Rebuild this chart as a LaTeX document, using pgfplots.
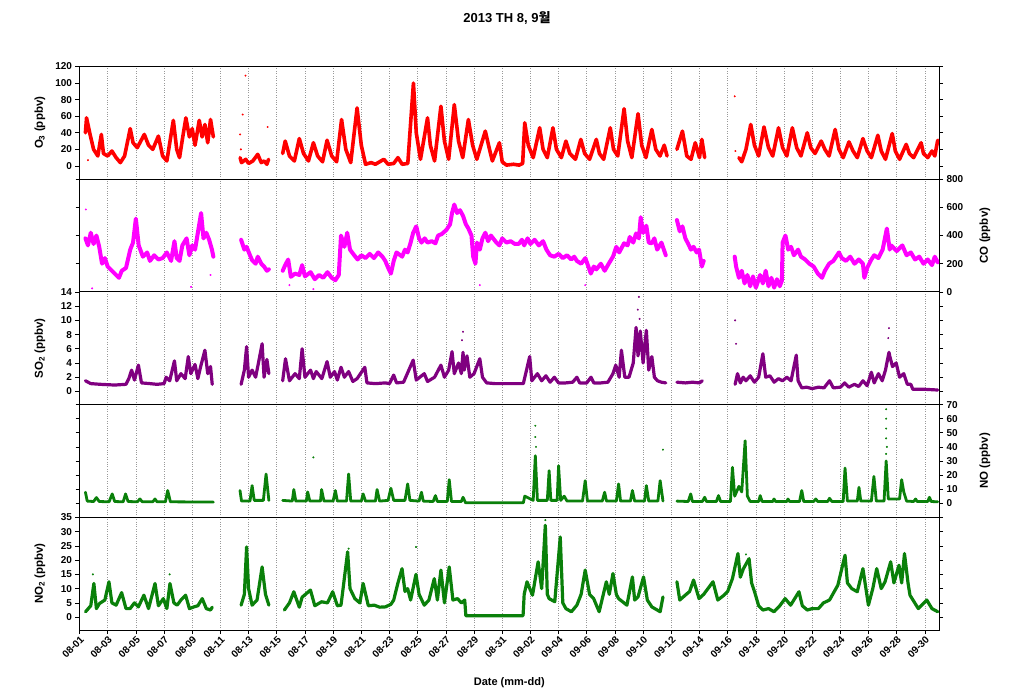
\documentclass[border=0pt]{standalone}
\usepackage{fontspec}
\setmainfont{Liberation Sans}
\newfontfamily\krfont{Noto Sans CJK KR}
\usepackage{pgfplots}
\usepackage{pgfplotstable}
\pgfplotsset{compat=1.18}

\definecolor{ozred}{RGB}{255,0,0}
\definecolor{comag}{RGB}{255,0,255}
\definecolor{sopur}{RGB}{128,0,128}
\definecolor{nogrn}{RGB}{10,128,10}

% O3 (ppbv), day since 08-01 00:00
\pgfplotstableread[row sep=\\]{d v\\
0.42 40\\ 0.5 58\\ 0.6 50\\ 0.75 38\\ 1.0 20\\ 1.3 12\\ 1.55 38\\ 1.7 15\\ 2.0 12\\ 2.3 18\\ 2.6 10\\ 2.9 4\\ 3.2 12\\ 3.6 45\\ 3.8 28\\ 4.1 22\\ 4.6 38\\ 4.9 25\\ 5.2 20\\ 5.6 36\\ 5.9 12\\ 6.2 6\\ 6.66 55\\ 6.9 20\\ 7.1 10\\ 7.3 32\\ 7.55 58\\ 7.8 35\\ 8.0 45\\ 8.2 25\\ 8.5 55\\ 8.7 35\\ 8.9 50\\ 9.1 28\\ 9.3 56\\ 9.5 35\\ 9.6 nan\\
11.4 10\\ 11.5 4\\ 11.8 8\\ 12.0 3\\ 12.3 6\\ 12.65 14\\ 12.9 4\\ 13.1 6\\ 13.3 2\\ 13.42 8\\ 13.5 nan\\
14.42 15\\ 14.6 30\\ 14.9 12\\ 15.25 6\\ 15.6 33\\ 15.9 15\\ 16.25 6\\ 16.6 28\\ 16.9 12\\ 17.25 5\\ 17.57 31\\ 17.9 12\\ 18.25 5\\ 18.6 56\\ 18.9 20\\ 19.25 4\\ 19.7 70\\ 20.0 25\\ 20.3 2\\ 20.7 4\\ 21.0 2\\ 21.6 8\\ 21.9 2\\ 22.3 3\\ 22.6 10\\ 22.9 2\\ 23.3 3\\ 23.7 100\\ 23.9 40\\ 24.2 8\\ 24.7 58\\ 24.9 25\\ 25.2 6\\ 25.65 72\\ 25.9 30\\ 26.2 8\\ 26.6 74\\ 26.9 30\\ 27.2 10\\ 27.6 56\\ 27.9 25\\ 28.2 8\\ 28.8 42\\ 29.1 20\\ 29.3 6\\ 29.8 28\\ 30.0 5\\ 30.3 1\\ 30.8 2\\ 31.2 1\\ 31.45 3\\
31.6 52\\ 31.85 25\\ 32.2 10\\ 32.66 46\\ 32.9 20\\ 33.2 10\\ 33.6 46\\ 33.85 20\\ 34.2 10\\ 34.52 30\\ 34.8 15\\ 35.2 8\\ 35.58 32\\ 35.85 15\\ 36.2 8\\ 36.68 32\\ 36.9 15\\ 37.2 8\\ 37.67 46\\ 37.9 20\\ 38.2 12\\ 38.65 69\\ 38.9 30\\ 39.2 10\\ 39.64 63\\ 39.9 25\\ 40.2 10\\ 40.62 44\\ 40.9 20\\ 41.2 12\\ 41.5 25\\ 41.7 12\\ 41.8 nan\\
42.4 20\\ 42.79 42\\ 43.1 12\\ 43.4 8\\ 43.7 28\\ 44.0 10\\ 44.17 32\\ 44.37 10\\ 44.5 nan\\
46.8 10\\ 47.0 5\\ 47.3 20\\ 47.64 50\\ 47.9 25\\ 48.2 12\\ 48.58 47\\ 48.9 22\\ 49.2 12\\ 49.61 46\\ 49.9 22\\ 50.2 12\\ 50.59 46\\ 50.9 22\\ 51.2 12\\ 51.65 40\\ 51.9 22\\ 52.2 15\\ 52.64 30\\ 52.9 20\\ 53.2 12\\ 53.63 44\\ 53.9 20\\ 54.2 10\\ 54.61 29\\ 54.9 18\\ 55.2 10\\ 55.6 33\\ 55.9 18\\ 56.2 10\\ 56.66 37\\ 56.9 18\\ 57.2 8\\ 57.68 39\\ 57.9 18\\ 58.2 8\\ 58.67 26\\ 58.9 15\\ 59.2 10\\ 59.73 28\\ 59.9 15\\ 60.2 10\\ 60.5 18\\ 60.7 12\\ 60.91 31\\
}\ozone
\pgfplotstableread[row sep=\\]{d v\\
0.6 7\\ 11.78 109\\ 11.58 62\\ 11.4 38\\ 11.45 20\\ 13.35 47\\ 46.5 84\\ 46.55 18\\
}\ozoneout

% CO (ppbv)
\pgfplotstableread[row sep=\\]{d v\\
0.42 380\\ 0.6 330\\ 0.8 420\\ 1.0 340\\ 1.2 400\\ 1.4 320\\ 1.6 200\\ 1.8 240\\ 2.0 180\\ 2.3 150\\ 2.6 120\\ 2.8 100\\ 3.0 150\\ 3.3 170\\ 3.6 300\\ 3.8 350\\ 4.0 520\\ 4.2 330\\ 4.5 250\\ 4.8 280\\ 5.0 220\\ 5.3 260\\ 5.6 230\\ 5.9 240\\ 6.2 280\\ 6.5 220\\ 6.74 360\\ 6.9 240\\ 7.1 220\\ 7.3 330\\ 7.6 380\\ 7.8 260\\ 8.0 330\\ 8.2 300\\ 8.4 420\\ 8.63 560\\ 8.8 380\\ 9.0 420\\ 9.2 370\\ 9.4 300\\ 9.5 250\\ 9.6 nan\\
11.47 370\\ 11.7 300\\ 11.86 320\\ 12.1 260\\ 12.25 225\\ 12.5 200\\ 12.65 250\\ 12.9 200\\ 13.1 180\\ 13.3 150\\ 13.44 160\\ 13.5 nan\\
14.42 150\\ 14.6 190\\ 14.81 230\\ 15.0 107\\ 15.3 130\\ 15.6 120\\ 15.8 190\\ 16.0 110\\ 16.4 140\\ 16.7 90\\ 17.0 120\\ 17.3 100\\ 17.6 140\\ 17.9 100\\ 18.16 83\\ 18.4 120\\ 18.56 400\\ 18.8 320\\ 19.0 420\\ 19.2 300\\ 19.5 260\\ 19.74 230\\ 20.0 260\\ 20.3 240\\ 20.6 270\\ 20.9 240\\ 21.2 280\\ 21.5 250\\ 21.7 220\\ 21.91 170\\ 22.1 130\\ 22.3 220\\ 22.5 280\\ 22.9 250\\ 23.1 300\\ 23.29 280\\ 23.5 350\\ 23.68 420\\ 23.9 465\\ 24.1 380\\ 24.27 350\\ 24.5 380\\ 24.7 350\\ 25.0 360\\ 25.26 345\\ 25.45 400\\ 25.7 410\\ 26.04 440\\ 26.3 480\\ 26.44 560\\ 26.6 620\\ 26.8 560\\ 27.0 580\\ 27.22 540\\ 27.42 480\\ 27.6 450\\ 27.82 400\\ 27.94 250\\ 28.1 200\\ 28.21 350\\ 28.41 300\\ 28.6 380\\ 28.8 420\\ 29.0 360\\ 29.2 400\\ 29.59 350\\ 29.8 330\\ 30.0 380\\ 30.3 350\\ 30.6 360\\ 30.9 340\\ 31.17 340\\ 31.4 370\\ 31.56 330\\ 31.8 380\\ 32.0 340\\ 32.3 370\\ 32.6 330\\ 32.9 360\\ 33.14 300\\ 33.4 260\\ 33.7 250\\ 34.0 270\\ 34.3 240\\ 34.6 260\\ 34.9 230\\ 35.11 250\\ 35.3 220\\ 35.6 200\\ 35.9 240\\ 36.29 130\\ 36.5 180\\ 36.68 160\\ 37.0 200\\ 37.27 150\\ 37.5 190\\ 37.86 250\\ 38.1 320\\ 38.3 280\\ 38.65 345\\ 38.9 330\\ 39.05 390\\ 39.3 350\\ 39.5 415\\ 39.7 380\\ 39.83 530\\ 40.0 420\\ 40.23 470\\ 40.4 350\\ 40.62 345\\ 40.8 380\\ 41.0 300\\ 41.3 350\\ 41.61 260\\ 41.7 nan\\
42.4 510\\ 42.6 430\\ 42.79 465\\ 43.0 380\\ 43.18 345\\ 43.4 300\\ 43.58 320\\ 43.8 280\\ 43.97 300\\ 44.17 180\\ 44.3 220\\ 44.4 nan\\
46.5 250\\ 46.6 180\\ 46.8 100\\ 47.0 150\\ 47.2 60\\ 47.4 120\\ 47.6 40\\ 47.8 110\\ 48.0 30\\ 48.3 120\\ 48.5 60\\ 48.7 150\\ 48.9 40\\ 49.1 100\\ 49.3 30\\ 49.5 90\\ 49.7 40\\ 49.85 80\\ 49.9 350\\ 50.1 400\\ 50.3 300\\ 50.5 320\\ 50.7 260\\ 51.0 300\\ 51.2 250\\ 51.5 230\\ 51.8 200\\ 52.1 180\\ 52.4 130\\ 52.7 100\\ 52.9 150\\ 53.2 200\\ 53.5 220\\ 53.9 280\\ 54.1 240\\ 54.4 220\\ 54.7 250\\ 55.0 200\\ 55.3 230\\ 55.6 200\\ 55.7 100\\ 55.9 170\\ 56.2 230\\ 56.4 260\\ 56.7 240\\ 57.0 300\\ 57.3 450\\ 57.5 300\\ 57.6 330\\ 58.0 290\\ 58.4 330\\ 58.7 260\\ 59.0 280\\ 59.3 230\\ 59.6 250\\ 59.9 200\\ 60.2 230\\ 60.5 190\\ 60.7 250\\ 60.91 210\\
}\carbon
\pgfplotstableread[row sep=\\]{d v\\
0.45 585\\ 0.9 25\\ 7.92 36\\ 9.3 120\\ 14.9 48\\ 28.41 48\\ 35.89 48\\ 16.6 20\\
}\carbonout

% SO2 (ppbv)
\pgfplotstableread[row sep=\\]{d v\\
0.42 1.5\\ 0.8 1.1\\ 1.5 1.0\\ 2.5 0.9\\ 3.3 1.0\\ 3.5 1.8\\ 3.7 3.0\\ 3.9 1.6\\ 4.18 3.7\\ 4.4 1.2\\ 5.0 1.1\\ 5.5 1.0\\ 6.0 1.1\\ 6.15 2.0\\ 6.4 1.5\\ 6.74 4.3\\ 6.9 1.5\\ 7.2 2.5\\ 7.5 1.8\\ 7.72 4.9\\ 7.9 2.5\\ 8.2 3.8\\ 8.4 1.8\\ 8.6 3.5\\ 8.9 5.8\\ 9.1 2.5\\ 9.3 3.5\\ 9.42 1.0\\ 9.5 nan\\
11.47 1.0\\ 11.7 3.0\\ 11.86 6.3\\ 12.0 2.0\\ 12.25 3.0\\ 12.5 2.0\\ 12.7 4.0\\ 12.96 6.7\\ 13.1 2.0\\ 13.3 4.5\\ 13.44 2.5\\ 13.5 nan\\
14.42 1.5\\ 14.62 4.6\\ 14.9 1.5\\ 15.3 2.5\\ 15.6 1.8\\ 15.8 6.0\\ 16.0 2.0\\ 16.4 3.0\\ 16.6 1.8\\ 16.8 2.8\\ 17.2 1.8\\ 17.57 4.2\\ 17.8 2.0\\ 18.1 2.8\\ 18.3 1.6\\ 18.56 3.4\\ 18.8 2.0\\ 19.1 2.8\\ 19.4 1.4\\ 19.7 1.8\\ 20.25 3.4\\ 20.4 1.2\\ 21.0 1.1\\ 21.7 1.2\\ 22.0 1.1\\ 22.3 2.3\\ 22.5 1.2\\ 23.0 1.3\\ 23.68 4.4\\ 23.9 1.6\\ 24.47 2.5\\ 24.7 1.4\\ 25.2 2.0\\ 25.65 3.7\\ 25.9 2.0\\ 26.2 3.0\\ 26.44 5.6\\ 26.6 2.5\\ 26.9 4.0\\ 27.1 2.5\\ 27.22 5.5\\ 27.3 3.0\\ 27.5 5.0\\ 27.7 2.0\\ 28.0 2.5\\ 28.41 4.6\\ 28.6 2.0\\ 28.9 1.2\\ 29.5 1.1\\ 30.5 1.1\\ 31.5 1.1\\ 31.95 4.9\\ 32.1 1.5\\ 32.5 2.5\\ 32.8 1.5\\ 33.1 2.2\\ 33.4 1.3\\ 33.7 2.0\\ 34.0 1.2\\ 34.5 1.2\\ 35.0 1.3\\ 35.3 2.0\\ 35.5 1.2\\ 36.0 1.2\\ 36.3 2.0\\ 36.5 1.2\\ 37.0 1.2\\ 37.5 1.3\\ 37.86 2.5\\ 38.06 3.7\\ 38.3 2.0\\ 38.46 5.8\\ 38.7 2.0\\ 39.0 2.0\\ 39.3 4.0\\ 39.5 9.0\\ 39.64 5.0\\ 39.8 8.5\\ 40.0 4.0\\ 40.23 8.6\\ 40.4 3.0\\ 40.62 4.9\\ 40.8 2.0\\ 41.02 1.5\\ 41.3 1.3\\ 41.61 1.2\\ 41.7 nan\\
42.4 1.3\\ 43.0 1.2\\ 43.5 1.3\\ 44.0 1.2\\ 44.2 1.5\\ 44.3 nan\\
46.53 1.0\\ 46.7 2.5\\ 46.9 1.2\\ 47.1 2.0\\ 47.3 1.5\\ 47.6 2.2\\ 47.9 1.3\\ 48.2 2.0\\ 48.5 5.3\\ 48.7 2.0\\ 49.0 2.2\\ 49.3 1.3\\ 49.6 1.8\\ 49.9 1.5\\ 50.2 2.0\\ 50.5 1.5\\ 50.87 5.1\\ 51.0 1.5\\ 51.26 0.5\\ 51.6 0.6\\ 52.0 0.4\\ 52.44 0.6\\ 52.84 0.5\\ 53.23 1.5\\ 53.5 0.5\\ 54.0 0.6\\ 54.3 1.2\\ 54.6 0.6\\ 55.0 1.0\\ 55.3 0.7\\ 55.6 1.5\\ 55.9 0.8\\ 56.2 2.7\\ 56.4 1.2\\ 56.7 2.5\\ 56.97 1.5\\ 57.2 3.0\\ 57.45 5.5\\ 57.5 5.0\\ 57.7 3.5\\ 57.96 4.0\\ 58.2 2.0\\ 58.5 2.5\\ 58.75 1.0\\ 59.0 1.0\\ 59.14 0.3\\ 60.0 0.3\\ 60.91 0.2\\
}\sulfur
\pgfplotstableread[row sep=\\]{d v\\
39.7 13.3\\ 39.62 11.5\\ 39.75 10.2\\ 27.22 8.4\\ 27.15 7.2\\ 46.53 10.0\\ 46.6 6.7\\ 57.45 8.9\\ 57.4 7.5\\
}\sulfurout

% NO (ppbv)
\pgfplotstableread[row sep=\\]{d v\\
0.42 7.8\\ 0.55 1.5\\ 1.0 1.2\\ 1.2 4.0\\ 1.4 1.2\\ 2.1 1.0\\ 2.32 6.6\\ 2.5 1.2\\ 3.1 1.0\\ 3.27 6.6\\ 3.45 1.2\\ 4.1 1.0\\ 4.29 3\\ 4.45 1.0\\ 5.2 1.0\\ 5.36 3\\ 5.5 1.0\\ 6.1 1.0\\ 6.26 9\\ 6.45 1.0\\ 9.5 0.8\\ 9.6 nan\\
11.39 9\\ 11.5 1.5\\ 12.1 1.5\\ 12.25 12.5\\ 12.4 2\\ 13.05 2\\ 13.24 20.7\\ 13.44 2\\ 13.5 nan\\
14.42 2\\ 15.1 1.5\\ 15.21 9.7\\ 15.35 1.5\\ 16.1 1.5\\ 16.19 8\\ 16.35 1.5\\ 17.1 1.5\\ 17.18 9.7\\ 17.35 1.5\\ 18.0 1.5\\ 18.16 9\\ 18.3 1.5\\ 18.95 1.5\\ 19.1 20.7\\ 19.25 1.5\\ 20.0 1.5\\ 20.13 6.6\\ 20.3 1.5\\ 21.0 1.5\\ 21.12 9.7\\ 21.3 1.5\\ 21.9 2\\ 22.1 10.6\\ 22.3 2\\ 23.1 2\\ 23.29 13.7\\ 23.45 2\\ 24.1 1.5\\ 24.27 7.8\\ 24.4 1.5\\ 25.1 1.2\\ 25.26 5.4\\ 25.4 1.2\\ 26.1 1.2\\ 26.24 16.7\\ 26.4 1.2\\ 27.1 1.2\\ 27.22 4.2\\ 27.4 0.3\\ 31.5 0.3\\ 31.6 5\\ 32.2 2\\ 32.35 33.7\\ 32.5 2\\ 33.2 2\\ 33.33 23.1\\ 33.45 2\\ 33.9 2\\ 34.0 26.6\\ 34.15 2\\ 34.4 5\\ 34.6 1.5\\ 35.7 1.5\\ 35.89 16\\ 36.05 1.5\\ 37.1 1.5\\ 37.27 7.8\\ 37.4 1.5\\ 38.1 1.5\\ 38.26 13.7\\ 38.4 1.5\\ 39.1 1.5\\ 39.24 9\\ 39.4 1.5\\ 40.1 1.5\\ 40.23 12.5\\ 40.4 1.5\\ 41.05 1.5\\ 41.21 16\\ 41.41 1.5\\ 41.5 nan\\
42.4 1.5\\ 43.2 1.2\\ 43.38 6.6\\ 43.5 1.2\\ 44.2 1.2\\ 44.37 4.2\\ 44.5 1.2\\ 45.2 1.2\\ 45.35 5.4\\ 45.5 1.2\\ 46.2 1.2\\ 46.34 25.5\\ 46.5 5\\ 46.8 12\\ 47.0 8\\ 47.24 44.3\\ 47.4 5\\ 47.6 1.2\\ 48.2 1.2\\ 48.31 5.4\\ 48.45 1.2\\ 49.2 1.2\\ 49.29 3\\ 49.4 1.2\\ 50.2 1.2\\ 50.28 3\\ 50.4 1.2\\ 51.1 1.2\\ 51.26 9\\ 51.4 1.2\\ 52.1 1.2\\ 52.25 3\\ 52.4 1.2\\ 53.1 1.2\\ 53.23 3.5\\ 53.4 1.2\\ 54.2 1.2\\ 54.33 25\\ 54.5 1.5\\ 55.2 1.5\\ 55.32 11.3\\ 55.45 1.5\\ 56.2 1.5\\ 56.38 19\\ 56.55 1.5\\ 57.1 1.5\\ 57.25 30\\ 57.4 3\\ 58.2 3\\ 58.35 16.7\\ 58.5 8\\ 58.7 1.5\\ 59.2 1.2\\ 59.34 3\\ 59.45 1.2\\ 60.2 1.2\\ 60.32 4.2\\ 60.45 1.2\\ 60.91 1.0\\
}\nitric
\pgfplotstableread[row sep=\\]{d v\\
32.35 55\\ 32.35 47\\ 32.4 40\\ 41.41 38\\ 16.6 32.5\\ 57.25 66.7\\ 57.25 60\\ 57.25 53\\ 57.25 46\\ 57.3 40\\ 57.25 35\\ 47.24 36\\
}\nitricout

% NO2 (ppbv)
\pgfplotstableread[row sep=\\]{d v\\
0.43 1.9\\ 0.8 4\\ 1.02 11.8\\ 1.2 3\\ 1.42 4.8\\ 1.8 6\\ 2.09 12.4\\ 2.3 5\\ 2.6 4.2\\ 2.99 8.6\\ 3.3 3\\ 3.59 3\\ 3.9 5\\ 4.18 3.6\\ 4.57 7.7\\ 4.9 3\\ 5.36 11.8\\ 5.6 4\\ 5.95 6.5\\ 6.2 3\\ 6.42 11.8\\ 6.7 5\\ 6.93 4.2\\ 7.2 6\\ 7.53 7.7\\ 7.8 3\\ 8.12 3.6\\ 8.4 4\\ 8.71 6.5\\ 9.0 3\\ 9.3 2.5\\ 9.42 3.5\\ 9.5 nan\\
11.47 4.2\\ 11.7 8\\ 11.86 24.6\\ 12.0 10\\ 12.25 4.2\\ 12.6 6\\ 12.96 17.6\\ 13.2 8\\ 13.44 4.2\\ 13.5 nan\\
14.54 2.5\\ 14.9 5\\ 15.21 8.9\\ 15.6 3.5\\ 15.8 7\\ 16.39 9.5\\ 16.7 4\\ 17.18 5.4\\ 17.6 5\\ 17.97 8.9\\ 18.3 4\\ 18.56 4.2\\ 19.03 22.9\\ 19.2 10\\ 19.54 6.5\\ 19.9 5\\ 20.13 11.8\\ 20.5 4\\ 20.92 4.2\\ 21.3 3.5\\ 21.71 3.6\\ 22.1 4.5\\ 22.3 6\\ 22.6 12\\ 22.89 17\\ 23.1 9\\ 23.29 10\\ 23.5 6\\ 23.88 15\\ 24.1 8\\ 24.47 4.2\\ 24.8 6\\ 25.18 13.5\\ 25.4 6\\ 25.65 16.5\\ 25.9 5\\ 26.24 17.6\\ 26.5 6\\ 26.83 6.5\\ 27.1 5\\ 27.34 6\\ 27.42 0.5\\ 31.48 0.5\\ 31.56 8\\ 31.76 12.4\\ 32.15 7.7\\ 32.55 19.4\\ 32.8 10\\ 33.06 32.2\\ 33.2 8\\ 33.33 6.5\\ 33.73 5.4\\ 34.12 28.1\\ 34.3 5\\ 34.52 3\\ 34.91 1.9\\ 35.3 4.2\\ 35.6 8\\ 35.89 16.5\\ 36.2 8\\ 36.49 6.5\\ 36.88 1.9\\ 37.39 12.4\\ 37.6 8\\ 37.86 15.3\\ 38.1 8\\ 38.26 6.5\\ 38.85 4.2\\ 39.24 14.1\\ 39.4 6\\ 39.64 7.1\\ 40.03 14.1\\ 40.3 6\\ 40.62 3.6\\ 41.21 1.9\\ 41.41 7.1\\ 41.5 nan\\
42.4 12.4\\ 42.6 6\\ 42.99 7.7\\ 43.3 9\\ 43.58 13\\ 43.97 6.5\\ 44.3 8\\ 44.96 12.4\\ 45.3 6\\ 45.74 7.7\\ 46.0 9\\ 46.34 13.5\\ 46.73 22.3\\ 46.9 14\\ 47.12 17\\ 47.52 20.5\\ 47.7 12\\ 47.91 8.9\\ 48.2 4\\ 48.5 2.5\\ 48.9 3\\ 49.29 1.9\\ 49.7 4\\ 50.08 6.5\\ 50.47 4.2\\ 51.06 8.9\\ 51.3 4\\ 51.65 2.5\\ 52.0 3\\ 52.44 3\\ 52.8 5\\ 53.23 6\\ 53.82 11.2\\ 54.33 21.7\\ 54.5 12\\ 54.81 10\\ 55.2 8.9\\ 55.6 17\\ 55.99 4.2\\ 56.3 10\\ 56.58 17\\ 56.9 10\\ 57.17 12.4\\ 57.57 19.4\\ 57.8 12\\ 58.16 18.2\\ 58.35 12\\ 58.55 22.3\\ 58.8 12\\ 58.94 7.7\\ 59.53 3\\ 60.13 6\\ 60.5 3\\ 60.91 1.9\\
}\nitrogen
\pgfplotstableread[row sep=\\]{d v\\
0.95 15\\ 6.4 15\\ 23.88 24.6\\ 33.06 34\\ 19.1 24\\ 47.3 22\\
}\nitrogenout

\pgfplotsset{
  panel/.style={
    scale only axis, width=859.5pt, height=112.7pt,
    xmin=0, xmax=61, xtick={0,2,...,60},
    xmajorgrids, grid style={dotted, black!40, line width=0.6pt},
    xticklabels={}, xtick style={draw=none},
    tick align=outside, ytick pos=both,
    ytick style={black, line width=0.6pt}, major tick length=4pt,
    axis line style={black, line width=0.9pt},
    yticklabel style={font=\bfseries\fontsize{10}{11}\selectfont},
    ylabel style={font=\bfseries\fontsize{11.5}{12}\selectfont},
    /pgf/number format/assume math mode=true,
    unbounded coords=jump,
    every axis plot/.append style={line join=round, line cap=round},
  },
  leftlab/.style={yticklabel pos=left,
    ylabel style={at={(axis description cs:-0.046,0.5)}, anchor=center}},
  rightlab/.style={yticklabel pos=right,
    ylabel style={at={(axis description cs:1.0535,0.5)}, anchor=center}},
  outl/.style={only marks, mark=*, mark size=0.8pt},
}

\begin{document}
\begin{tikzpicture}
\path[use as bounding box] (0pt,0pt) rectangle (1014pt,696pt);
\node[font=\bfseries\fontsize{13}{14}\selectfont] at (507pt,678pt) {2013 TH 8, 9{\krfont 월}};

% O3
\begin{axis}[panel, leftlab, at={(79.5pt,516.8pt)}, anchor=south west,
  ymin=-16, ymax=120, ytick={0,20,...,120}, ylabel={O\textsubscript{3} (ppbv)}]
\addplot[ozred, line width=3.6pt] table[x=d, y=v] {\ozone};
\addplot[ozred, outl] table[x=d, y=v] {\ozoneout};
\end{axis}

% CO
\begin{axis}[panel, rightlab, at={(79.5pt,404.1pt)}, anchor=south west,
  ymin=0, ymax=800, ytick={0,200,...,800}, ylabel={CO (ppbv)}]
\addplot[comag, line width=4pt] table[x=d, y=v] {\carbon};
\addplot[comag, outl] table[x=d, y=v] {\carbonout};
\end{axis}

% SO2
\begin{axis}[panel, leftlab, at={(79.5pt,291.4pt)}, anchor=south west,
  ymin=-1.85, ymax=14, ytick={0,2,...,14}, ylabel={SO\textsubscript{2} (ppbv)}]
\addplot[sopur, line width=3.2pt] table[x=d, y=v] {\sulfur};
\addplot[sopur, outl] table[x=d, y=v] {\sulfurout};
\end{axis}

% NO
\begin{axis}[panel, rightlab, at={(79.5pt,178.7pt)}, anchor=south west,
  ymin=-10, ymax=70, ytick={0,10,...,70}, ylabel={NO (ppbv)}]
\addplot[nogrn, line width=2.8pt] table[x=d, y=v] {\nitric};
\addplot[nogrn, outl] table[x=d, y=v] {\nitricout};
\end{axis}

% NO2
\begin{axis}[panel, leftlab, at={(79.5pt,66pt)}, anchor=south west,
  ymin=-4.5, ymax=35, ytick={0,5,...,35}, ylabel={NO\textsubscript{2} (ppbv)},
  xtick pos=bottom, xtick style={draw=black, line width=0.6pt},
  xticklabels={08-01,08-03,08-05,08-07,08-09,08-11,08-13,08-15,08-17,08-19,08-21,08-23,08-25,08-27,08-29,08-31,09-02,09-04,09-06,09-08,09-10,09-12,09-14,09-16,09-18,09-20,09-22,09-24,09-26,09-28,09-30},
  xticklabel style={rotate=45, anchor=north east, inner sep=1pt, font=\bfseries\fontsize{10}{11}\selectfont},
  xlabel={Date (mm-dd)},
  xlabel style={at={(axis description cs:0.5,-0.47)}, anchor=center, font=\bfseries\fontsize{11}{12}\selectfont}]
\addplot[nogrn, line width=3.2pt] table[x=d, y=v] {\nitrogen};
\addplot[nogrn, outl] table[x=d, y=v] {\nitrogenout};
\end{axis}
\end{tikzpicture}
\end{document}
